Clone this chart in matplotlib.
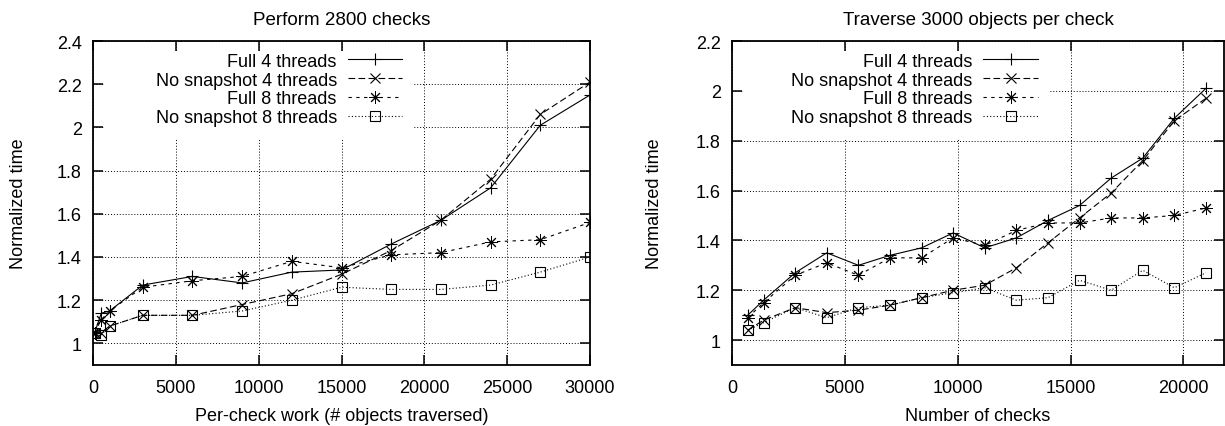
import matplotlib
matplotlib.use("Agg")
import matplotlib.pyplot as plt
from matplotlib.patches import Rectangle
from matplotlib.ticker import FuncFormatter

plt.rcParams['font.family'] = ['Liberation Sans', 'DejaVu Sans']
plt.rcParams['font.size'] = 13

# left: 2800 checks, varying per-check work
work = [100, 500, 1000, 3000, 6000, 9000, 12000, 15000, 18000, 21000, 24000, 27000, 30000]
work_full4 = [1.05, 1.14, 1.15, 1.27, 1.31, 1.28, 1.33, 1.34, 1.46, 1.57, 1.72, 2.01, 2.15]
work_nosnap4 = [1.05, 1.05, 1.08, 1.13, 1.13, 1.18, 1.23, 1.32, 1.43, 1.57, 1.76, 2.06, 2.21]
work_full8 = [1.05, 1.11, 1.15, 1.26, 1.29, 1.31, 1.38, 1.35, 1.41, 1.42, 1.47, 1.48, 1.56]
work_nosnap8 = [1.05, 1.04, 1.08, 1.13, 1.13, 1.15, 1.20, 1.26, 1.25, 1.25, 1.27, 1.33, 1.40]

# right: 3000 objects per check, varying number of checks
checks = [700, 1400, 2800, 4200, 5600, 7000, 8400, 9800, 11200, 12600, 14000, 15400, 16800, 18200, 19600, 21000]
checks_full4 = [1.10, 1.16, 1.27, 1.35, 1.30, 1.34, 1.37, 1.43, 1.37, 1.41, 1.48, 1.54, 1.65, 1.73, 1.89, 2.01]
checks_nosnap4 = [1.04, 1.08, 1.13, 1.11, 1.12, 1.14, 1.17, 1.20, 1.22, 1.29, 1.39, 1.49, 1.59, 1.72, 1.88, 1.97]
checks_full8 = [1.09, 1.15, 1.26, 1.31, 1.26, 1.33, 1.33, 1.41, 1.38, 1.44, 1.47, 1.47, 1.49, 1.49, 1.50, 1.53]
checks_nosnap8 = [1.04, 1.07, 1.13, 1.09, 1.13, 1.14, 1.17, 1.19, 1.21, 1.16, 1.17, 1.24, 1.20, 1.28, 1.21, 1.27]

labels = ["Full 4 threads", "No snapshot 4 threads", "Full 8 threads", "No snapshot 8 threads"]

# gnuplot-like line/point types
styles = [
    dict(ls='-', marker='+', ms=9, mew=0.8),
    dict(ls=(0, (6, 3)), marker='x', ms=7, mew=0.8),
    dict(ls=(0, (3, 4)), marker=(8, 2, 0), ms=9, mew=0.7),
    dict(ls=(0, (1, 2)), marker='s', ms=7, mew=0.8, mfc='none'),
]


def draw(ax, x, series, title, xlabel, xlim, ylim, yticks, xticks):
    for y, lab, st in zip(series, labels, styles):
        ax.plot(x, y, color='black', lw=0.8, label=lab, **st)
    ax.set_xlim(*xlim)
    ax.set_ylim(*ylim)
    ax.set_xticks(xticks)
    ax.set_yticks(yticks)
    ax.yaxis.set_major_formatter(FuncFormatter(lambda v, p: '%g' % v))
    ax.tick_params(direction='in', top=True, right=True, length=7, width=1.1)
    ax.tick_params(axis='y', pad=8)
    ax.tick_params(axis='x', pad=10)
    for s in ax.spines.values():
        s.set_linewidth(1.3)
    ax.grid(True, color='black', lw=0.7, ls=(0, (1, 2)))
    ax.set_title(title, fontsize=13.5, pad=12)
    ax.set_xlabel(xlabel, labelpad=8)
    ax.set_ylabel("Normalized time")
    leg = ax.legend(loc='upper right', bbox_to_anchor=(0.645, 1.0), markerfirst=False,
                    numpoints=1, handlelength=3.0, handletextpad=0.6, labelspacing=0.1,
                    borderpad=0.65, borderaxespad=0, frameon=False)
    return leg


def blank_key_area(fig, ax, leg):
    # gnuplot key is opaque from the left border: hide grid there, keep ticks
    fig.canvas.draw()
    bb = leg.get_window_extent().transformed(ax.transAxes.inverted())
    w, h = ax.get_window_extent().width, ax.get_window_extent().height
    tx, ty = 11 / w, 11 / h
    ax.add_patch(Rectangle((tx, bb.y0), bb.x1 - tx, 1 - ty - bb.y0,
                           transform=ax.transAxes, facecolor='white',
                           edgecolor='none', zorder=1.6))


fig = plt.figure(figsize=(12.25, 4.27), dpi=100)
ax1 = fig.add_axes([93 / 1225, 61 / 427, 497 / 1225, 324 / 427])
ax2 = fig.add_axes([732 / 1225, 61 / 427, 492 / 1225, 324 / 427])

leg1 = draw(ax1, work, [work_full4, work_nosnap4, work_full8, work_nosnap8],
            "Perform 2800 checks", "Per-check work (# objects traversed)",
            (0, 30000), (0.9, 2.4), [1, 1.2, 1.4, 1.6, 1.8, 2, 2.2, 2.4],
            range(0, 30001, 5000))
ax1.yaxis.set_label_coords(-66 / 497, 0.5)

leg2 = draw(ax2, checks, [checks_full4, checks_nosnap4, checks_full8, checks_nosnap8],
            "Traverse 3000 objects per check", "Number of checks",
            (0, 21800), (0.9, 2.2), [1, 1.2, 1.4, 1.6, 1.8, 2, 2.2],
            range(0, 20001, 5000))
ax2.yaxis.set_label_coords(-69 / 492, 0.5)

blank_key_area(fig, ax1, leg1)
blank_key_area(fig, ax2, leg2)

plt.savefig("out.png", dpi=100)
plt.close()
